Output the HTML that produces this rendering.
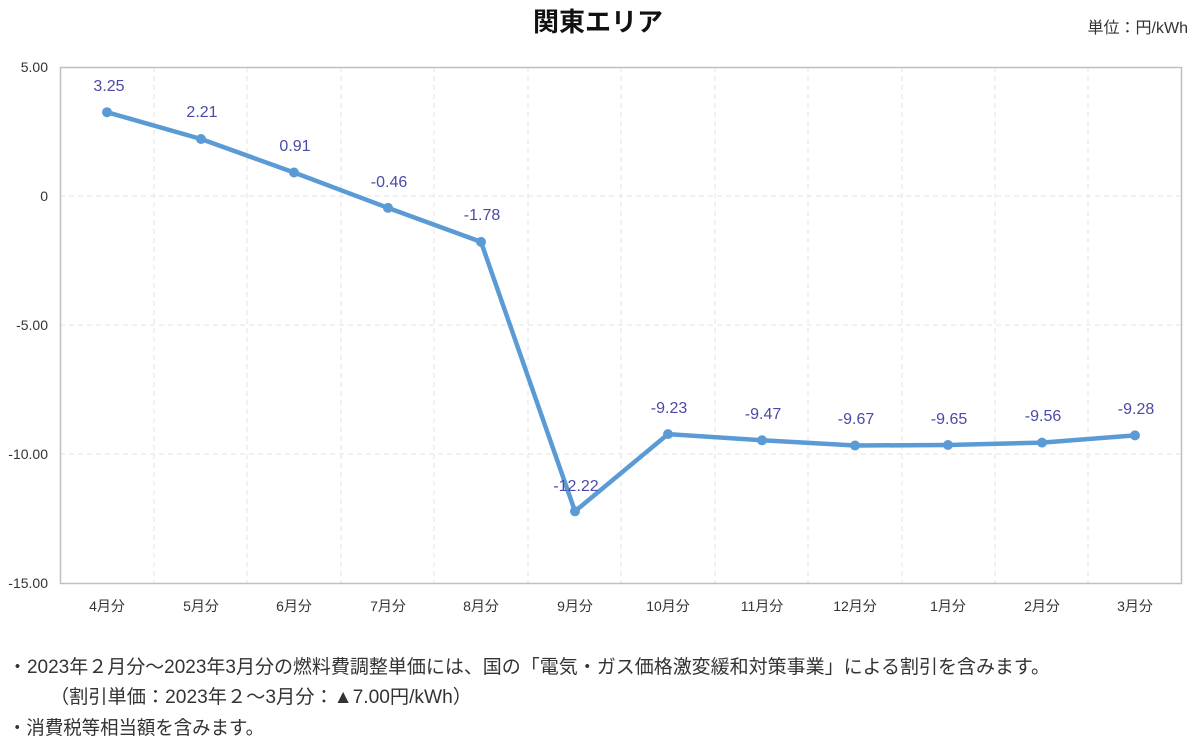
<!DOCTYPE html>
<html><head><meta charset="utf-8"><style>
body{margin:0;background:#fff;width:1200px;height:751px;overflow:hidden;font-family:"Liberation Sans","Noto Sans CJK JP",sans-serif;}
</style></head><body>
<svg width="1200" height="751" xmlns="http://www.w3.org/2000/svg" font-family="Liberation Sans, Noto Sans CJK JP, sans-serif">
<text x="598" y="31" text-anchor="middle" font-size="26" font-weight="bold" fill="#111">関東エリア</text>
<text x="1188" y="33" text-anchor="end" font-size="16" fill="#333">単位：円/kWh</text>
<g stroke="#e3e3e3" stroke-dasharray="5,4" stroke-width="1">
<line x1="60" y1="196" x2="1182" y2="196"/><line x1="60" y1="325" x2="1182" y2="325"/><line x1="60" y1="454" x2="1182" y2="454"/>
<line x1="154" y1="67" x2="154" y2="583"/><line x1="247" y1="67" x2="247" y2="583"/><line x1="341" y1="67" x2="341" y2="583"/><line x1="434" y1="67" x2="434" y2="583"/><line x1="528" y1="67" x2="528" y2="583"/><line x1="621" y1="67" x2="621" y2="583"/><line x1="715" y1="67" x2="715" y2="583"/><line x1="808" y1="67" x2="808" y2="583"/><line x1="902" y1="67" x2="902" y2="583"/><line x1="995" y1="67" x2="995" y2="583"/><line x1="1088" y1="67" x2="1088" y2="583"/>
</g>
<rect x="60.5" y="67.5" width="1121" height="516" fill="none" stroke="#bfbfbf" stroke-width="1.5"/>
<g font-size="14" fill="#333" text-anchor="end">
<text x="48" y="72">5.00</text><text x="48" y="201">0</text><text x="48" y="330">-5.00</text><text x="48" y="459">-10.00</text><text x="48" y="588">-15.00</text>
</g>
<g font-size="14" fill="#333" text-anchor="middle">
<text x="107" y="611">4月分</text><text x="201" y="611">5月分</text><text x="294" y="611">6月分</text><text x="388" y="611">7月分</text><text x="481" y="611">8月分</text><text x="575" y="611">9月分</text><text x="668" y="611">10月分</text><text x="762" y="611">11月分</text><text x="855" y="611">12月分</text><text x="948" y="611">1月分</text><text x="1042" y="611">2月分</text><text x="1135" y="611">3月分</text>
</g>
<polyline fill="none" stroke="#5b9bd5" stroke-width="4.5" stroke-linejoin="round" points="107,112.2 201,139 294,172.5 388,207.9 481,241.9 575,511.3 668,434.1 762,440.3 855,445.5 948,445 1042,442.6 1135,435.4"/>
<g fill="#5b9bd5">
<circle cx="107" cy="112.2" r="5"/><circle cx="201" cy="139" r="5"/><circle cx="294" cy="172.5" r="5"/><circle cx="388" cy="207.9" r="5"/><circle cx="481" cy="241.9" r="5"/><circle cx="575" cy="511.3" r="5"/><circle cx="668" cy="434.1" r="5"/><circle cx="762" cy="440.3" r="5"/><circle cx="855" cy="445.5" r="5"/><circle cx="948" cy="445" r="5"/><circle cx="1042" cy="442.6" r="5"/><circle cx="1135" cy="435.4" r="5"/>
</g>
<g font-size="16" fill="#4a4aa8" text-anchor="middle">
<text x="109" y="91">3.25</text><text x="202" y="117">2.21</text><text x="295" y="151">0.91</text><text x="389" y="187">-0.46</text><text x="482" y="220">-1.78</text><text x="576" y="491">-12.22</text><text x="669" y="413">-9.23</text><text x="763" y="419">-9.47</text><text x="856" y="424">-9.67</text><text x="949" y="424">-9.65</text><text x="1043" y="421">-9.56</text><text x="1136" y="414">-9.28</text>
</g>
<g font-size="19" fill="#333">
<text x="8" y="673" textLength="1042" lengthAdjust="spacingAndGlyphs">・2023年２月分～2023年3月分の燃料費調整単価には、国の「電気・ガス価格激変緩和対策事業」による割引を含みます。</text>
<text x="50" y="703" textLength="422" lengthAdjust="spacingAndGlyphs">（割引単価：2023年２～3月分：▲7.00円/kWh）</text>
<text x="8" y="734" textLength="256" lengthAdjust="spacingAndGlyphs">・消費税等相当額を含みます。</text>
</g>
</svg>
</body></html>
